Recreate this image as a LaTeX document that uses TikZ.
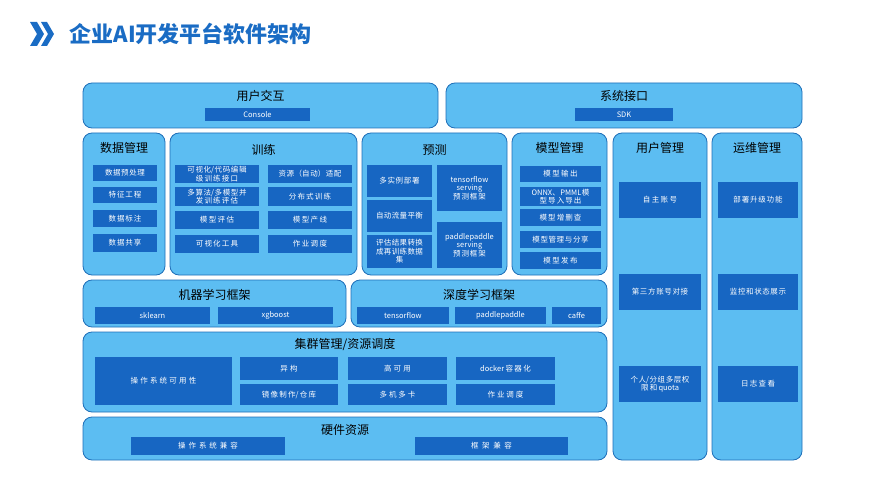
\documentclass[tikz,border=0pt]{standalone}
\usepackage{fontspec}
\setmainfont{Noto Sans CJK SC}
\XeTeXlinebreaklocale "zh"
\XeTeXlinebreakskip=0pt plus 1pt
\definecolor{panelblue}{HTML}{5CBDF2}
\definecolor{edgeblue}{HTML}{1E6FB8}
\definecolor{cellblue}{HTML}{1766C2}
\definecolor{titleblue}{HTML}{1A6CC4}
\tikzset{
  panel/.style={draw=edgeblue, line width=0.8pt, fill=panelblue, rounded corners=9pt},
  cell/.style={fill=cellblue, text=white, font=\fontsize{7.5}{8.5}\selectfont, align=center, inner sep=1pt},
  head/.style={font=\fontsize{12}{14}\selectfont, text=black}
}
% panel: name, x1, y1, x2, y2
\newcommand\panelbox[5]{\draw[panel] (#2,#3) rectangle (#4,#5) coordinate (#1);}
% cell: name, x1, y1, x2, y2, text
\newcommand\cellbox[6]{%
  \pgfmathsetmacro\cw{#4-#2}\pgfmathsetmacro\ch{#5-#3}\pgfmathsetmacro\tw{#4-#2-6}%
  \node[cell, minimum width=\cw pt, minimum height=\ch pt, text width=\tw pt] (#1) at ({(#2+#4)/2},{(#3+#5)/2}) {#6};}
\begin{document}
\begin{tikzpicture}[x=1pt,y=-1pt]
  \useasboundingbox (0,0) rectangle (889,500);
  % title
  \fill[titleblue] (30,22) -- (37,22) -- (44,34) -- (37,46) -- (30,46) -- (37,34) -- cycle;
  \fill[titleblue] (41,22) -- (47,22) -- (54,34) -- (47,46) -- (41,46) -- (48,34) -- cycle;
  \node[anchor=west, text=titleblue, font=\fontsize{22}{24}\selectfont\bfseries] (title) at (66,34) {企业AI开发平台软件架构};

  % top row
  \panelbox{ui}{83}{83}{438}{128}
  \node[head] (uih) at (260.5,96) {用户交互};
  \cellbox{console}{205}{108}{310}{121}{Console}
  \panelbox{si}{446}{83}{802}{128}
  \node[head] (sih) at (624,96) {系统接口};
  \cellbox{sdk}{575}{108}{673}{121}{SDK}

  % data
  \panelbox{data}{83}{133}{165}{275}
  \node[head] (datah) at (124,148) {数据管理};
  \cellbox{d1}{93}{165}{157}{181}{数据预处理}
  \cellbox{d2}{93}{187}{157}{203}{特征工程}
  \cellbox{d3}{93}{210}{157}{227}{数据标注}
  \cellbox{d4}{93}{234}{157}{252}{数据共享}

  % training
  \panelbox{train}{170}{133}{357}{275}
  \node[head] (trainh) at (263.5,150) {训练};
  \cellbox{t1}{175}{165}{259}{183}{可视化/代码编辑\\级训练接口}
  \cellbox{t2}{175}{187}{259}{206}{多算法/多模型并\\发训练评估}
  \cellbox{t3}{175}{211}{259}{229}{模型评估}
  \cellbox{t4}{175}{235}{259}{253}{可视化工具}
  \cellbox{t5}{268}{165}{352}{183}{资源（自动）适配}
  \cellbox{t6}{268}{187}{352}{206}{分布式训练}
  \cellbox{t7}{268}{211}{352}{229}{模型产线}
  \cellbox{t8}{268}{235}{352}{253}{作业调度}

  % prediction
  \panelbox{pred}{362}{133}{507}{275}
  \node[head] (predh) at (434.5,150) {预测};
  \cellbox{p1}{367}{165}{432}{197}{多实例部署}
  \cellbox{p2}{367}{200}{432}{232}{自动流量平衡}
  \cellbox{p3}{367}{235}{432}{268}{评估结果转换\\成再训练数据\\集}
  \cellbox{p4}{437}{165}{502}{211}{tensorflow\\serving\\预测框架}
  \cellbox{p5}{437}{222}{502}{268}{paddlepaddle\\serving\\预测框架}

  % model management
  \panelbox{model}{512}{133}{607}{275}
  \node[head] (modelh) at (559.5,148) {模型管理};
  \cellbox{m1}{520}{166}{601}{182}{模型输出}
  \cellbox{m2}{520}{187}{601}{206}{ONNX、PMML模\\型导入导出}
  \cellbox{m3}{520}{209}{601}{226}{模型增删查}
  \cellbox{m4}{520}{231}{601}{248}{模型管理与分享}
  \cellbox{m5}{520}{252}{601}{269}{模型发布}

  % user / ops columns
  \panelbox{user}{613}{133}{707}{460}
  \node[head] (userh) at (660,148) {用户管理};
  \cellbox{u1}{619}{182}{701}{218}{自主账号}
  \cellbox{u2}{619}{274}{701}{310}{第三方账号对接}
  \cellbox{u3}{619}{366}{701}{402}{个人/分组多层权\\限和quota}
  \panelbox{ops}{712}{133}{802}{460}
  \node[head] (opsh) at (757,148) {运维管理};
  \cellbox{o1}{718}{182}{798}{218}{部署升级功能}
  \cellbox{o2}{718}{274}{798}{310}{监控和状态展示}
  \cellbox{o3}{718}{366}{798}{402}{日志查看}

  % frameworks
  \panelbox{ml}{83}{280}{346}{327}
  \node[head] (mlh) at (214.5,295) {机器学习框架};
  \cellbox{sk}{95}{307}{210}{324}{sklearn}
  \cellbox{xg}{218}{307}{333}{324}{xgboost}
  \panelbox{dl}{351}{280}{607}{327}
  \node[head] (dlh) at (479,295) {深度学习框架};
  \cellbox{tf}{357}{307}{449}{324}{tensorflow}
  \cellbox{pp}{455}{307}{546}{324}{paddlepaddle}
  \cellbox{cf}{552}{307}{601}{324}{caffe}

  % cluster
  \panelbox{cluster}{83}{332}{607}{412}
  \node[head] (clusterh) at (345,345) {集群管理/资源调度};
  \cellbox{c0}{95}{357}{232}{405}{操作系统可用性}
  \cellbox{c1}{240}{357}{338}{380}{异构}
  \cellbox{c2}{348}{357}{447}{380}{高可用}
  \cellbox{c3}{456}{357}{555}{380}{docker容器化}
  \cellbox{c4}{240}{384}{338}{405}{镜像制作/仓库}
  \cellbox{c5}{348}{384}{447}{405}{多机多卡}
  \cellbox{c6}{456}{384}{555}{405}{作业调度}

  % hardware
  \panelbox{hw}{83}{417}{607}{460}
  \node[head] (hwh) at (345,430) {硬件资源};
  \cellbox{h1}{131}{437}{285}{455}{操作系统兼容}
  \cellbox{h2}{415}{437}{568}{455}{框架兼容}
\end{tikzpicture}
\end{document}
